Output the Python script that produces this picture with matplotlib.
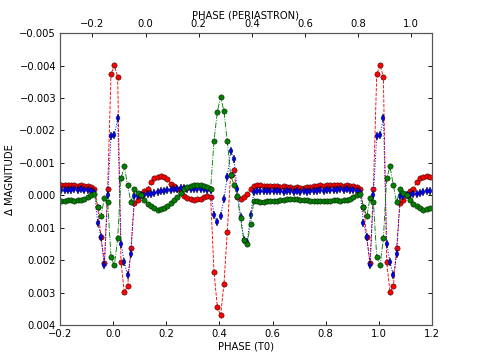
#!/usr/bin/env python3

# Phase-folded light curve residuals, three models, plotted over -0.2..1.2

import numpy as np
import matplotlib
matplotlib.use('Agg')
import matplotlib.pyplot as plt
from matplotlib.ticker import FuncFormatter

# one cycle, 80 samples starting at phase 0.0045 (units of 1e-3 mag)
phase_start = 0.0045
phase_step = 0.0125

red_mag = [-4.01, -3.65, 2.06, 2.98, 2.80, 1.63, 0.24, 0.15, 0.00, -0.12,
           -0.20, -0.40, -0.52, -0.57, -0.59, -0.55, -0.49, -0.36, -0.28, -0.19,
           -0.08, 0.02, 0.07, 0.12, 0.15, 0.12, 0.10, 0.05, 0.02, 0.05,
           2.35, 3.43, 3.70, 2.73, 1.13, -0.64, -0.77, 0.05, 0.10, 0.05,
           -0.05, -0.20, -0.29, -0.31, -0.31, -0.30, -0.29, -0.30, -0.28, -0.29,
           -0.27, -0.28, -0.26, -0.25, -0.24, -0.25, -0.23, -0.24, -0.25, -0.27,
           -0.28, -0.30, -0.31, -0.30, -0.32, -0.31, -0.33, -0.31, -0.32, -0.30,
           -0.31, -0.29, -0.28, -0.26, -0.20, 0.36, 1.30, 2.10, -0.21, -3.73]

blue_mag = [-1.85, -2.37, 1.49, 2.06, 2.47, 1.82, 0.03, 0.03, 0.00, -0.02,
            -0.03, -0.05, -0.08, -0.10, -0.12, -0.13, -0.15, -0.17, -0.19, -0.20,
            -0.22, -0.22, -0.21, -0.20, -0.20, -0.19, -0.19, -0.18, -0.17, -0.15,
            0.62, 0.82, 0.65, 0.10, -0.58, -1.36, -1.12, -0.18, 0.67, 1.37,
            1.44, 0.62, -0.10, -0.12, -0.13, -0.12, -0.14, -0.13, -0.12, -0.14,
            -0.12, -0.11, -0.13, -0.12, -0.11, -0.12, -0.10, -0.12, -0.11, -0.13,
            -0.14, -0.13, -0.15, -0.14, -0.16, -0.15, -0.17, -0.16, -0.18, -0.17,
            -0.18, -0.17, -0.16, -0.14, -0.10, 0.84, 1.29, 2.16, 0.00, -1.84]

green_mag = [2.16, 1.33, -0.52, -0.89, -0.31, 0.22, -0.18, -0.07, 0.00, 0.15,
             0.26, 0.34, 0.40, 0.46, 0.41, 0.38, 0.33, 0.24, 0.15, 0.05,
             -0.07, -0.20, -0.26, -0.28, -0.31, -0.33, -0.31, -0.28, -0.26, -0.20,
             -1.68, -2.57, -3.03, -2.59, -1.68, -0.63, -0.33, 0.03, 0.70, 1.39,
             1.49, 0.87, 0.17, 0.18, 0.20, 0.20, 0.19, 0.18, 0.17, 0.16,
             0.15, 0.13, 0.12, 0.11, 0.12, 0.12, 0.13, 0.13, 0.14, 0.16,
             0.17, 0.18, 0.18, 0.17, 0.16, 0.16, 0.15, 0.15, 0.16, 0.15,
             0.14, 0.10, 0.05, 0.00, -0.05, 0.35, 0.65, 0.07, 0.21, 1.90]

periastron_offset = 0.122   # PHASE(PERIASTRON) = PHASE(T0) - offset
x_min, x_max = -0.2, 1.2


def tile_cycle(values):
    # repeat one cycle over the plotted phase window
    ph = phase_start + phase_step * np.arange(len(values))
    vals = np.array(values) * 1e-3
    xs = np.concatenate([ph - 1, ph, ph + 1])
    ys = np.concatenate([vals, vals, vals])
    keep = (xs >= x_min) & (xs <= x_max)
    return xs[keep], ys[keep]


def mag_fmt(v, pos):
    if abs(v) < 1e-9:
        return '0.000'
    return ('%.3f' % v).replace('-', '\u2212')


plt.rcParams['font.size'] = 9
plt.rcParams['xtick.direction'] = 'in'
plt.rcParams['ytick.direction'] = 'in'

fig, ax = plt.subplots(figsize=(6, 4.5), dpi=80)
fig.subplots_adjust(left=0.125, right=0.9, bottom=0.097, top=0.908)

x, y = tile_cycle(red_mag)
ax.plot(x, y, '--', color='r', lw=0.8, marker='o', ms=4.8,
        mfc='r', mec='k', mew=0.4)
x, y = tile_cycle(blue_mag)
ax.plot(x, y, ':', color='b', lw=0.9, marker='d', ms=4.8,
        mfc='b', mec='k', mew=0.4)
x, y = tile_cycle(green_mag)
ax.plot(x, y, '-.', color='g', lw=0.8, marker='o', ms=4.8,
        mfc='g', mec='k', mew=0.4)

ax.set_xlim(x_min, x_max)
ax.set_ylim(0.004, -0.005)
ax.set_yticks(np.arange(-0.005, 0.0041, 0.001))
ax.yaxis.set_major_formatter(FuncFormatter(mag_fmt))
ax.set_xticks(np.arange(-0.2, 1.21, 0.2))
ax.tick_params(top=False, right=True, length=4)
ax.set_xlabel('PHASE (T0)', labelpad=2)
ax.set_ylabel('Δ MAGNITUDE')

ax2 = ax.twiny()
ax2.set_xlim(x_min - periastron_offset, x_max - periastron_offset)
ax2.set_xticks(np.arange(-0.2, 1.01, 0.2))
ax2.tick_params(direction='in', length=4)
ax2.set_xlabel('PHASE (PERIASTRON)', labelpad=1)

for a in (ax, ax2):
    for s in a.spines.values():
        s.set_color('#555555')
        s.set_linewidth(1.0)

fig.savefig('out.png', dpi=80, facecolor='white')
